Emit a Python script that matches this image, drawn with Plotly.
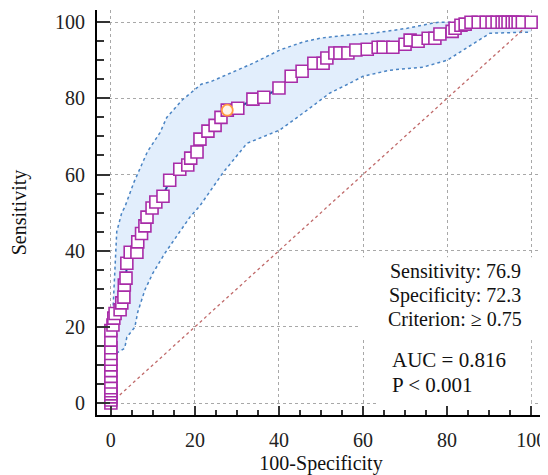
import plotly.graph_objects as go

# ROC vertices (100-Specificity, Sensitivity)
fpr = [0, 0, 0, 0, 0, 0, 0, 0, 0, 0, 0, 0, 0, 0, 0,
       0.5, 0.7, 1.0, 2.2, 2.6, 3.1, 3.2, 3.6, 3.8, 4.6, 6.2, 6.4, 7.3, 8.1, 8.6,
       9.8, 10.7, 12.4, 14.0, 16.4, 18.3, 19.0, 20.5, 21.2, 23.1, 24.8, 26.2, 27.7,
       30.2, 33.8, 36.4, 40.0, 42.9, 45.5, 48.3, 50.5, 51.4, 53.3, 54.5, 56.4, 58.3,
       61.0, 63.6, 64.8, 67.1, 70.0, 71.2, 73.1, 75.5, 77.1, 78.3, 81.2, 81.9, 83.3,
       84.3, 85.7, 87.4, 89.3, 90.7, 91.9, 93.1, 93.8, 94.5, 95.5, 96.2, 96.9, 97.9, 100]
tpr = [0, 0.8, 1.6, 2.4, 3.2, 4.0, 5.5, 7.0, 8.5, 10.0, 11.5, 13.0, 14.5, 16.5, 19.0,
       20.5, 22.3, 23.5, 24.5, 26.3, 27.8, 31.0, 32.8, 36.7, 39.6, 39.6, 42.3, 44.5, 46.5, 48.8,
       51.2, 52.8, 54.3, 58.5, 61.4, 62.5, 64.3, 65.9, 69.3, 71.4, 72.9, 75.0, 76.9,
       77.4, 79.8, 80.3, 82.7, 85.8, 87.1, 89.2, 89.2, 90.6, 91.9, 91.9, 91.9, 92.7,
       92.9, 93.4, 93.4, 93.4, 94.2, 95.3, 95.0, 95.8, 95.8, 96.9, 97.6, 98.4, 99.2,
       99.5, 100, 100, 100, 100, 100, 100, 100, 100, 100, 100, 100, 100, 100]

# 95% confidence bounds
ci_upper_x = [0, 0.3, 0.6, 1.0, 1.4, 2.6, 3.3, 5.5, 8.7, 11.7, 13.3, 16.9, 21.5, 23.6,
              28.3, 33.8, 40.2, 45.7, 49.8, 56.2, 62.4, 70.5, 76.4, 78.0, 100]
ci_upper_y = [13, 20, 30, 38, 45, 50, 51.4, 58, 66, 71, 75, 79.5, 83.7, 84.3,
              86.6, 89.2, 92.7, 94.8, 95.8, 96.6, 97.1, 98.4, 99.7, 100, 100]
ci_lower_x = [0, 1.4, 3.3, 3.8, 5.7, 6.4, 8.1, 10.0, 12.9, 16.4, 18.8, 21.2, 23.6, 26.7,
              32.4, 40.2, 46.7, 52.1, 56.9, 60.0, 66.4, 74.3, 80.0, 84.8, 90.2, 100]
ci_lower_y = [12.5, 13.1, 14.4, 17.3, 19.9, 23.9, 29.7, 34.1, 39.4, 45.0, 48.8, 51.8, 55.5, 60.5,
              68.2, 71.7, 76.9, 81.4, 84.0, 85.8, 87.4, 88.2, 90.0, 93.4, 97.1, 97.4]

cut_x = [27.7]
cut_y = [76.9]
diag = [0, 100]
ticks = [0, 20, 40, 60, 80, 100]

stats_lines = ["Sensitivity: 76.9", "Specificity: 72.3", "Criterion: \u2265 0.75"]
auc_lines = ["AUC = 0.816", "P < 0.001"]

FONT = "Liberation Serif, Times New Roman, serif"

fig = go.Figure()

# CI band fill
fig.add_trace(go.Scatter(
    x=ci_upper_x + ci_lower_x[::-1], y=ci_upper_y + ci_lower_y[::-1],
    fill="toself", fillcolor="#e2eefc", line=dict(width=0), mode="lines",
    hoverinfo="skip", showlegend=False))
for xs, ys in [(ci_upper_x, ci_upper_y), (ci_lower_x, ci_lower_y)]:
    fig.add_trace(go.Scatter(x=xs, y=ys, mode="lines",
                             line=dict(color="#4a84c4", width=1.5, dash="dot"),
                             showlegend=False))

# diagonal
fig.add_trace(go.Scatter(x=diag, y=diag, mode="lines",
                         line=dict(color="#c06a6a", width=1.3, dash="dot"),
                         showlegend=False))

# ROC curve
fig.add_trace(go.Scatter(x=fpr, y=tpr, mode="lines+markers",
                         line=dict(color="#1d4f9e", width=2),
                         marker=dict(symbol="square", size=12, color="white",
                                     line=dict(color="#a82ca8", width=1.6)),
                         showlegend=False))

# optimal criterion
fig.add_trace(go.Scatter(x=cut_x, y=cut_y, mode="markers",
                         marker=dict(symbol="circle", size=11, color="#fff4ea",
                                     line=dict(color="#ff9a40", width=1.8)),
                         showlegend=False))

# white boxes behind text
fig.add_shape(type="rect", xref="x", yref="y", x0=59.3, x1=104, y0=17.0, y1=38.3,
              fillcolor="white", line=dict(width=0), layer="between")
fig.add_shape(type="rect", xref="x", yref="y", x0=63.6, x1=100.0, y0=-0.3, y1=17.5,
              fillcolor="white", line=dict(width=0), layer="between")

for i, t in enumerate(stats_lines):
    fig.add_annotation(x=82.0, y=34.5 - i * 6.2, xref="x", yref="y", text=t,
                       showarrow=False, xanchor="center", yanchor="middle",
                       font=dict(family=FONT, size=20, color="#111"))
for i, t in enumerate(auc_lines):
    fig.add_annotation(x=66.4, y=11.3 - i * 6.6, xref="x", yref="y", text=t,
                       showarrow=False, xanchor="left", yanchor="middle",
                       font=dict(family=FONT, size=21, color="#111"))

axis_common = dict(
    tickvals=ticks, showgrid=True, gridcolor="#a8a8a8", griddash="dot", gridwidth=1,
    zeroline=False, showline=True, linecolor="black", linewidth=2,
    ticks="inside", tickcolor="#333", tickwidth=2, automargin=False,
    tickfont=dict(family=FONT, size=20, color="#222"),
    minor=dict(ticks="inside", ticklen=5, tickwidth=1.5, tickcolor="#333",
               dtick=5, tick0=0, showgrid=False),
)

fig.update_xaxes(range=[-3.3, 103.3], ticklen=9, ticklabelstandoff=6,
                 title=dict(text="100-Specificity", standoff=6,
                            font=dict(family=FONT, size=20, color="#111")),
                 **axis_common)
fig.update_yaxes(range=[-3.15, 103.2], ticklen=13, ticklabelstandoff=6,
                 title=dict(text="Sensitivity", standoff=24,
                            font=dict(family=FONT, size=20, color="#111")),
                 **axis_common)
fig.update_yaxes(minor_ticklen=7)

# page body has an 8px default margin, so the figure is sized to fill the rest
fig.update_layout(width=540, height=467, margin=dict(l=89, r=3, t=2, b=60),
                  plot_bgcolor="white", paper_bgcolor="white", showlegend=False)

fig.write_html("out.html")
